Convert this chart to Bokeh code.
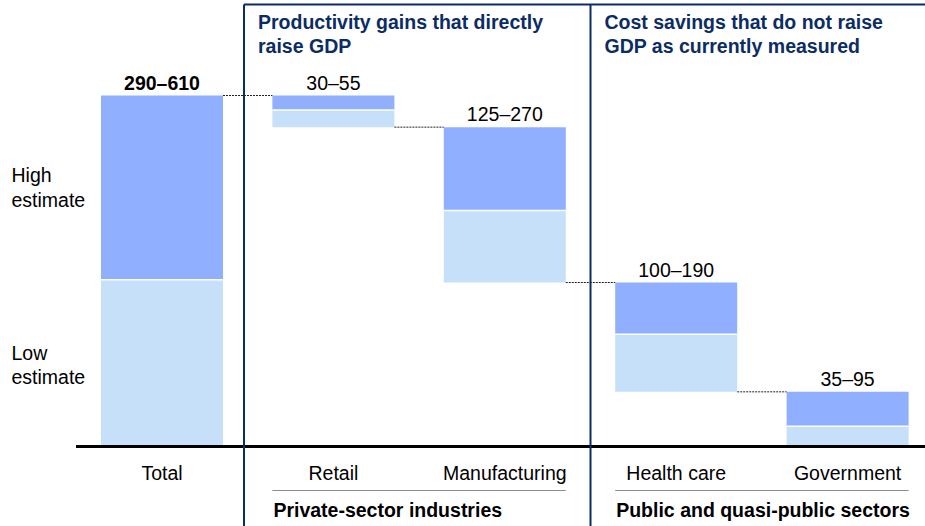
from bokeh.plotting import figure
from bokeh.models import Range1d, ColumnDataSource, Span
from bokeh.core.properties import value
from bokeh.embed import file_html
from bokeh.resources import INLINE

# ---- data ----
categories = ["Total", "Retail", "Manufacturing", "Health care", "Government"]
low_estimate = [290, 30, 125, 100, 35]
high_estimate = [610, 55, 270, 190, 95]
range_labels = ["290–610", "30–55", "125–270", "100–190", "35–95"]
group_titles = ["Productivity gains that directly\nraise GDP",
                "Cost savings that do not raise\nGDP as currently measured"]
group_labels = ["Private-sector industries", "Public and quasi-public sectors"]
legend_labels = ["High\nestimate", "Low\nestimate"]

# ---- styles ----
DARK = "#91AFFF"
LIGHT = "#C7E0FA"
NAVY = "#0B2C64"
FONT = "Liberation Sans"
FS = "19.5px"

W, H = 925, 526
PX_X = 171.4           # px per category step
PX_Y = 351 / 610       # px per value unit
x_start = -161.5 / PX_X
x_end = x_start + W / PX_X
y_end = 446 / PX_Y
y_start = y_end - H / PX_Y
BW = 122 / PX_X

# ---- waterfall stacking ----
xs = list(range(len(categories)))
light_b, light_t, dark_b, dark_t = [], [], [], []
level = None
conn_y = []
for i, (lo, hi) in enumerate(zip(low_estimate, high_estimate)):
    if i == 0:
        light_b.append(0); light_t.append(lo)
        dark_b.append(lo); dark_t.append(hi)
        level = hi
    else:
        top = level
        dark_t.append(top); dark_b.append(top - (hi - lo))
        light_t.append(top - (hi - lo)); light_b.append(top - hi)
        level = top - hi
    conn_y.append(level)

tops = [max(a, b) for a, b in zip(dark_t, light_t)]
src = ColumnDataSource(dict(x=xs, lb=light_b, lt=light_t, db=dark_b, dt=dark_t))

p = figure(width=W, height=H, x_range=Range1d(x_start, x_end), y_range=Range1d(y_start, y_end),
           output_backend="svg", toolbar_location=None, min_border=0)
p.axis.visible = False
p.grid.visible = False
p.outline_line_color = None
p.background_fill_color = "white"

p.vbar(x="x", bottom="lb", top="lt", width=BW, source=src, fill_color=LIGHT, line_color=None)
p.vbar(x="x", bottom="db", top="dt", width=BW, source=src, fill_color=DARK, line_color=None)
# thin white split between high and low parts
p.segment(x0=[x - BW / 2 for x in xs], x1=[x + BW / 2 for x in xs], y0=light_t, y1=light_t,
          line_color="white", line_width=1.5)

# connectors
p.segment(x0=[x + BW / 2 for x in xs[:-1]], x1=[x + 1 - BW / 2 for x in xs[:-1]],
          y0=conn_y[:-1], y1=conn_y[:-1], line_color="#222222", line_width=1, line_dash="2 1")

# baseline
p.segment(x0=[-86 / PX_X], x1=[x_end], y0=[0], y1=[0], line_color="black", line_width=3)

# range labels
p.text(x=[xs[0]], y=[tops[0]], text=[range_labels[0]], text_align="center",
       text_baseline="bottom", y_offset=-2, text_font=value(FONT), text_font_size=FS,
       text_font_style="bold", text_color="black")
p.text(x=xs[1:], y=tops[1:], text=range_labels[1:], text_align="center",
       text_baseline="bottom", y_offset=-2, text_font=value(FONT), text_font_size=FS,
       text_color="black")

# category labels
p.text(x=xs, y=[0] * len(xs), text=categories, text_align="center", text_baseline="middle",
       y_offset=26, text_font=value(FONT), text_font_size=FS, text_color="black")

# legend labels at total bar
p.text(x=[0, 0], y=[(low_estimate[0] + high_estimate[0]) / 2, low_estimate[0] / 2],
       text=legend_labels, text_align="left", text_baseline="middle", x_offset=-150.5,
       y_offset=[0, 2], text_font=value(FONT), text_font_size=FS, text_color="black",
       text_line_height=1.1)

# group separators (gray) and group labels
sep_y = -44 / PX_Y
p.segment(x0=[1 - BW / 2, 3 - BW / 2], x1=[2 + BW / 2, 4 + BW / 2], y0=[sep_y, sep_y],
          y1=[sep_y, sep_y], line_color="#8C8C8C", line_width=1)
p.text(x=[1 - BW / 2, 3 - BW / 2], y=[0, 0], text=group_labels, text_align="left",
       text_baseline="middle", x_offset=1, y_offset=63, text_font=value(FONT),
       text_font_size=FS, text_font_style="bold", text_color="black")

# boxes
div1 = BW / 2 + 21 / PX_X
div2 = 2.5
top_y = y_end - 4 / PX_Y
p.segment(x0=[div1, div2], x1=[div1, div2], y0=[top_y, top_y], y1=[y_start, y_start],
          line_color=NAVY, line_width=2)
p.segment(x0=[div1], x1=[x_end], y0=[top_y], y1=[top_y], line_color=NAVY, line_width=2)

# headers
p.text(x=[div1, div2], y=[y_end, y_end], text=group_titles, text_align="left",
       text_baseline="top", x_offset=14, y_offset=10, text_font=value(FONT),
       text_font_size=FS, text_font_style="bold", text_color=NAVY, text_line_height=1.11)

open("out.html", "w").write(file_html(p, INLINE))
